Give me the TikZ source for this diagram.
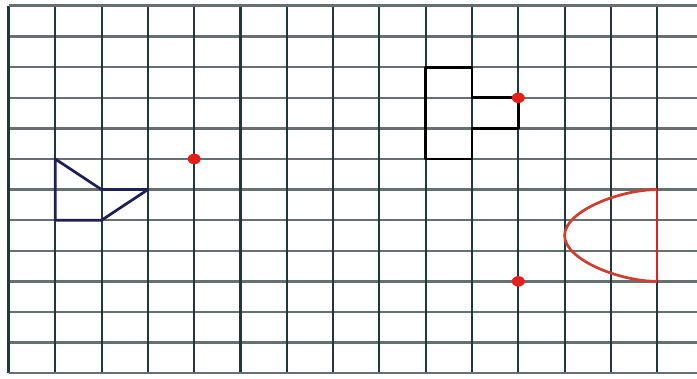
\documentclass[tikz,border=0pt]{standalone}
\definecolor{gridv}{rgb}{0.12,0.22,0.22}
\definecolor{gridh}{rgb}{0.4,0.44,0.44}
\definecolor{navyline}{rgb}{0.12,0.13,0.33}
\definecolor{dotred}{rgb}{0.9,0.12,0.1}
\definecolor{curvered}{rgb}{0.8,0.25,0.2}
\begin{document}
\begin{tikzpicture}[x=9.26mm,y=6.12mm]
            \tikzstyle{vline}=[line width=0.42mm,gridv]
            \tikzstyle{hline}=[line width=0.45mm,gridh]
            \tikzstyle{shapeline}=[line width=0.55mm,line join=round]
            \tikzstyle{reddot}=[fill=dotred,draw=none]
            \useasboundingbox (-0.194,-0.18) rectangle (14.86,12.196);
            % grid
            \foreach \y in {1,...,11}
                \draw [hline] (0,\y) -- (14.86,\y);
            \foreach \x in {1,...,14}
                \draw [vline] (\x,0) -- (\x,12);
            \draw [line width=0.6mm,gridv] (0,0) -- (0,12);
            \draw [line width=0.6mm,gridh] (0,12) -- (14.86,12);
            \draw [line width=0.5mm,gridh] (0,0) -- (14.86,0);
            % blue shape
            \draw [shapeline,navyline] (1,7) -- (2,6) -- (3,6) -- (2,5) -- (1,5) -- cycle;
            % black shape
            \draw [shapeline,black] (9,10) -- (10,10) -- (10,9) -- (11,9) -- (11,8) -- (10,8) -- (10,7) -- (9,7) -- cycle;
            % red shape
            \draw [shapeline,curvered] (14,6) .. controls (13.2,6) and (12,5.3) .. (12,4.5)
                .. controls (12,3.7) and (13.2,3) .. (14,3);
            \draw [line width=0.5mm,dotred] (14,6) -- (14,3);
            % red points
            \coordinate (p1) at (4,7);
            \coordinate (p2) at (11,9);
            \coordinate (p3) at (11,3);
            \fill [reddot] (p1) ellipse (1.3mm and 1.05mm);
            \fill [reddot] (p2) ellipse (1.3mm and 1.05mm);
            \fill [reddot] (p3) ellipse (1.3mm and 1.05mm);
\end{tikzpicture}
\end{document}
